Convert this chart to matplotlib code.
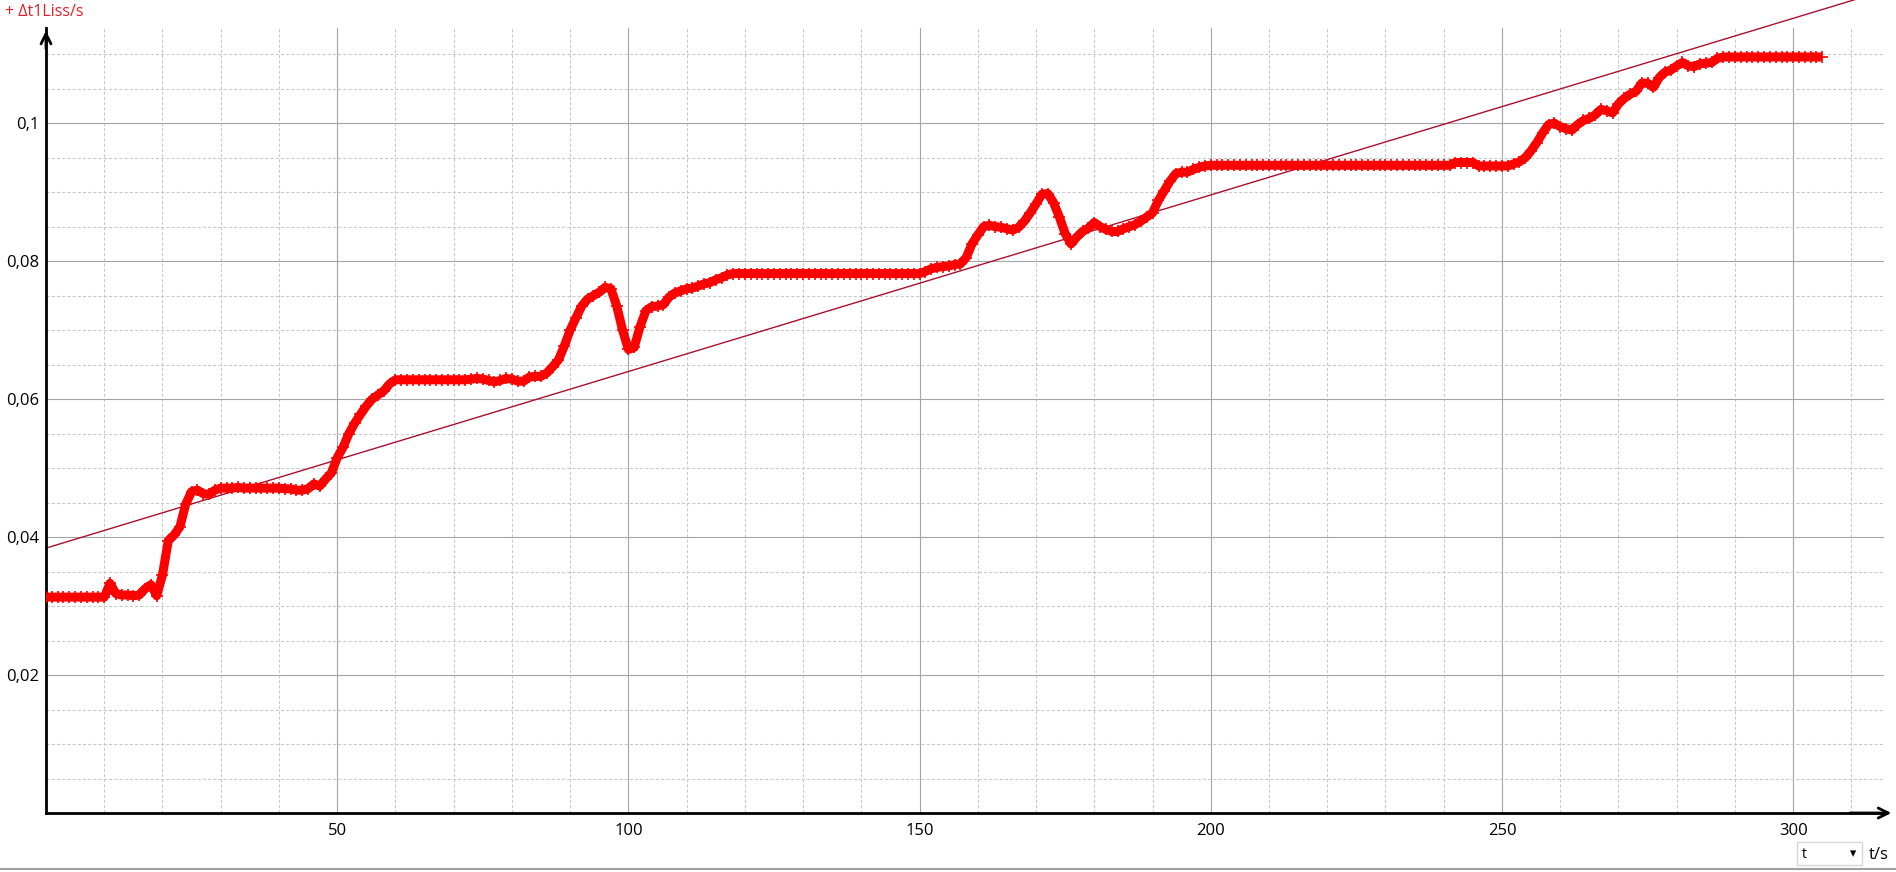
import numpy as np
import matplotlib.pyplot as plt
from matplotlib.ticker import MultipleLocator, FuncFormatter
from matplotlib.patches import Rectangle

plt.rcParams["font.family"] = ["Open Sans", "DejaVu Sans"]

# measured points, one per second (t/s -> dt1Liss/s)
t = np.arange(0, 306)
dt1liss = [
    # 0-10
    0.0313, 0.0313, 0.0313, 0.0313, 0.0313, 0.0313, 0.0313, 0.0313, 0.0313, 0.0313, 0.0313,
    # 11-30
    0.0333, 0.0318, 0.0316, 0.0316, 0.0315, 0.0316, 0.0325, 0.0331, 0.0315, 0.0345,
    0.0395, 0.0403, 0.0415, 0.0448, 0.0466, 0.0468, 0.0463, 0.0462, 0.0468, 0.0471,
    # 31-60
    0.0471, 0.0471, 0.0472, 0.0471, 0.0471, 0.0471, 0.0471, 0.0471, 0.0471, 0.0471,
    0.0470, 0.0470, 0.0468, 0.0468, 0.0470, 0.0477, 0.0474, 0.0484, 0.0493, 0.0515,
    0.0530, 0.0550, 0.0565, 0.0578, 0.0590, 0.0600, 0.0606, 0.0612, 0.0622, 0.0628,
    # 61-90
    0.0628, 0.0628, 0.0628, 0.0628, 0.0628, 0.0628, 0.0628, 0.0628, 0.0628, 0.0628,
    0.0628, 0.0628, 0.0629, 0.0630, 0.0629, 0.0627, 0.0625, 0.0627, 0.0630, 0.0629,
    0.0626, 0.0626, 0.0632, 0.0633, 0.0633, 0.0638, 0.0647, 0.0657, 0.0677, 0.0700,
    # 91-120
    0.0718, 0.0735, 0.0745, 0.0750, 0.0755, 0.0762, 0.0760, 0.0735, 0.0700, 0.0672,
    0.0675, 0.0705, 0.0728, 0.0734, 0.0735, 0.0737, 0.0748, 0.0754, 0.0757, 0.0760,
    0.0761, 0.0764, 0.0767, 0.0769, 0.0773, 0.0776, 0.0780, 0.0782, 0.0782, 0.0782,
    # 121-150
    0.0782, 0.0782, 0.0782, 0.0782, 0.0782, 0.0782, 0.0782, 0.0782, 0.0782, 0.0782,
    0.0782, 0.0782, 0.0782, 0.0782, 0.0782, 0.0782, 0.0782, 0.0782, 0.0782, 0.0782,
    0.0782, 0.0782, 0.0782, 0.0782, 0.0782, 0.0782, 0.0782, 0.0782, 0.0782, 0.0782,
    # 151-180
    0.0785, 0.0789, 0.0791, 0.0792, 0.0793, 0.0795, 0.0796, 0.0805, 0.0825, 0.0838,
    0.0850, 0.0852, 0.0850, 0.0849, 0.0847, 0.0845, 0.0849, 0.0858, 0.0870, 0.0883,
    0.0897, 0.0898, 0.0885, 0.0864, 0.0840, 0.0825, 0.0835, 0.0843, 0.0848, 0.0856,
    # 181-210
    0.0850, 0.0846, 0.0843, 0.0843, 0.0847, 0.0850, 0.0853, 0.0858, 0.0864, 0.0870,
    0.0888, 0.0902, 0.0916, 0.0927, 0.0929, 0.0929, 0.0933, 0.0936, 0.0938, 0.0939,
    0.0939, 0.0939, 0.0939, 0.0939, 0.0939, 0.0939, 0.0939, 0.0939, 0.0939, 0.0939,
    # 211-240
    0.0939, 0.0939, 0.0939, 0.0939, 0.0939, 0.0939, 0.0939, 0.0939, 0.0939, 0.0939,
    0.0939, 0.0939, 0.0939, 0.0939, 0.0939, 0.0939, 0.0939, 0.0939, 0.0939, 0.0939,
    0.0939, 0.0939, 0.0939, 0.0939, 0.0939, 0.0939, 0.0939, 0.0939, 0.0939, 0.0939,
    # 241-270
    0.0939, 0.0943, 0.0943, 0.0943, 0.0943, 0.0938, 0.0938, 0.0938, 0.0938, 0.0938,
    0.0938, 0.0941, 0.0944, 0.0950, 0.0960, 0.0972, 0.0986, 0.0998, 0.1000, 0.0995,
    0.0992, 0.0990, 0.0998, 0.1004, 0.1007, 0.1012, 0.1020, 0.1018, 0.1015, 0.1028,
    # 271-300
    0.1036, 0.1042, 0.1046, 0.1058, 0.1058, 0.1052, 0.1066, 0.1074, 0.1077, 0.1083,
    0.1088, 0.1083, 0.1082, 0.1086, 0.1087, 0.1088, 0.1094, 0.1096, 0.1096, 0.1096,
    0.1096, 0.1096, 0.1096, 0.1096, 0.1096, 0.1096, 0.1096, 0.1096, 0.1096, 0.1096,
    # 301-305
    0.1096, 0.1096, 0.1096, 0.1096, 0.1096,
]

# linear fit shown on the chart
fit_intercept = 0.0384
fit_slope = 0.000256

fig = plt.figure(figsize=(18.96, 8.72), dpi=100)
ax = fig.add_axes([46 / 1896, 59 / 872, 1838 / 1896, 785 / 872])
ax.set_xlim(0, 315.6)
ax.set_ylim(0, 0.1138)

ax.xaxis.set_major_locator(MultipleLocator(50))
ax.xaxis.set_minor_locator(MultipleLocator(10))
ax.yaxis.set_major_locator(MultipleLocator(0.02))
ax.yaxis.set_minor_locator(MultipleLocator(0.005))
ax.grid(which="major", color="#a4a4a4", lw=0.8, ls="-")
ax.grid(which="minor", color="#c8c8c8", lw=0.75, ls=(0, (3, 2)))
ax.set_axisbelow(True)

ax.xaxis.set_major_formatter(FuncFormatter(lambda v, p: "" if v == 0 else f"{v:g}"))
ax.yaxis.set_major_formatter(
    FuncFormatter(lambda v, p: "" if v == 0 else f"{v:g}".replace(".", ","))
)
ax.tick_params(which="both", length=0)
ax.tick_params(axis="x", pad=7, labelsize=12)
ax.tick_params(axis="y", pad=5, labelsize=12)

for s in ["top", "right"]:
    ax.spines[s].set_visible(False)
ax.spines["left"].set_linewidth(2)
ax.spines["bottom"].set_linewidth(2)

# fit line (runs past the top of the axes in the original)
xf = np.array([0, 320])
ax.plot(xf, fit_intercept + fit_slope * xf, color="#a8102e", lw=1, clip_on=False, zorder=2)

# thick band of "+" markers
ax.plot(t, dt1liss, color="#ff0000", lw=6.5, solid_capstyle="butt", zorder=3)
ax.plot(t, dt1liss, ls="none", marker="+", ms=9, mew=1.2, color="#ff0000", zorder=3)

# axis arrows
ax.annotate("", xy=(0, 1.0), xytext=(0, 0.97), xycoords="axes fraction",
            arrowprops=dict(arrowstyle="->", lw=2, color="black", mutation_scale=18),
            annotation_clip=False)
ax.annotate("", xy=(1.0055, 0), xytext=(0.98, 0), xycoords="axes fraction",
            arrowprops=dict(arrowstyle="->", lw=2, color="black", mutation_scale=18),
            annotation_clip=False)

fig.text(5 / 1896, 1 - 12 / 872, "+ \u0394t1Liss/s", color="#e0202a", fontsize=11.5,
         va="center", ha="left")

# unit selector and axis name at bottom right
fig.add_artist(Rectangle((1797 / 1896, 1 - 865 / 872), 65 / 1896, 23 / 872,
                         transform=fig.transFigure, facecolor="white",
                         edgecolor="#d8d8d8", lw=1))
fig.text(1802 / 1896, 1 - 854 / 872, "t", fontsize=10, va="center", ha="left")
fig.text(1853 / 1896, 1 - 854 / 872, "\u25be", fontsize=9, va="center", ha="center",
         family="DejaVu Sans")
fig.text(1869 / 1896, 1 - 855 / 872, "t/s", fontsize=12, va="center", ha="left")
fig.add_artist(plt.Line2D([0, 1], [1 - 869 / 872, 1 - 869 / 872],
                          transform=fig.transFigure, color="#a0a0a0", lw=1.5))

fig.savefig("out.png", dpi=100)
